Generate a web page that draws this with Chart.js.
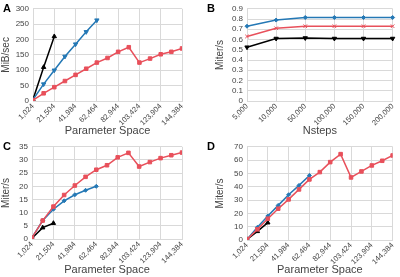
<!DOCTYPE html>
<html lang="en">
<head>
    <meta charset="UTF-8">
    <title>Throughput panels</title>
    <script src="https://cdn.jsdelivr.net/npm/chart.js"></script>
    <style>
        body { margin: 0; background: #fff; font-family: "Liberation Sans", Arial, sans-serif; }
        .panel { position: absolute; width: 200px; height: 138px; }
        .tag { position: absolute; font-weight: bold; font-size: 11px; color: #000; }
    </style>
</head>
<body>
    <div class="panel" style="left:0;top:0"><canvas id="chartA"></canvas></div>
    <div class="panel" style="left:200px;top:0"><canvas id="chartB"></canvas></div>
    <div class="panel" style="left:0;top:138px;height:139px"><canvas id="chartC"></canvas></div>
    <div class="panel" style="left:200px;top:138px;height:139px"><canvas id="chartD"></canvas></div>
    <div class="tag" style="left:3px;top:2px">A</div>
    <div class="tag" style="left:207px;top:2px">B</div>
    <div class="tag" style="left:3px;top:140px">C</div>
    <div class="tag" style="left:207px;top:140px">D</div>
    <script>
        // parameter space sizes (x of panels A, C, D)
        const paramSpace = [1024, 11264, 21504, 31744, 41984, 52224, 62464, 72704, 82944, 93184, 103424, 113664, 123904, 134144, 144384];
        const paramTicks = [1024, 21504, 41984, 62464, 82944, 103424, 123904, 144384];
        const nsteps = ['5,000', '10,000', '50,000', '100,000', '150,000', '200,000'];

        // panel A - MiB/sec
        const aRed = [3, 25, 45, 65, 85, 105, 125, 140, 160, 175, 125, 138, 152, 160, 171];
        const aBlue = [5, 55, 100, 145, 185, 225, 263];
        const aBlack = [5, 110, 210];

        // panel B - Miter/s
        const bBlue = [0.73, 0.79, 0.815, 0.815, 0.815, 0.815];
        const bRed = [0.63, 0.71, 0.73, 0.73, 0.73, 0.73];
        const bBlack = [0.525, 0.61, 0.615, 0.61, 0.61, 0.61];

        // panel C - Miter/s
        const cRed = [0.5, 7, 12.3, 16.7, 20.3, 23.6, 26.3, 28, 31, 32.7, 27.5, 29.2, 30.7, 31.8, 32.8];
        const cBlue = [0.5, 7, 11.3, 14.5, 16.8, 18.5, 20];
        const cBlack = [0.3, 4.3, 6];

        // panel D - Miter/s
        const dRed = [0.5, 8, 16, 23.5, 30.5, 38, 45.5, 51, 58.5, 64.5, 47, 51.5, 56, 59.5, 63.5];
        const dBlue = [0.5, 9.5, 18, 26, 34, 41, 48.5];
        const dBlack = [0.5, 6.5, 13];

        Chart.defaults.font.family = '"Liberation Sans", Arial, sans-serif';

        const RED = '#e8505b';
        const BLUE = '#2478b5';
        const BLACK = '#000000';
        const GRID = '#d9d9d9';
        const TXT = '#444';

        function pts(vals) {
            return vals.map((v, i) => ({ x: paramSpace[i], y: v }));
        }

        function ds(data, color, shape, r, rot) {
            return {
                data: data,
                borderColor: color,
                backgroundColor: color,
                borderWidth: 1.5,
                pointStyle: shape,
                pointRadius: r,
                pointRotation: rot || 0,
                pointBorderWidth: 1,
                tension: 0
            };
        }

        function yAxis(title, max, step, w) {
            return {
                min: 0, max: max,
                afterFit: (ax) => { ax.width = w; },
                grid: { color: GRID, drawTicks: false },
                border: { color: GRID },
                ticks: { stepSize: step, autoSkip: false, padding: 4, color: TXT, font: { size: 8 } },
                title: { display: true, text: title, color: TXT, font: { size: 10 }, padding: 0 }
            };
        }

        function xTitle(text) {
            return { display: true, text: text, color: TXT, font: { size: 11 }, padding: 0 };
        }

        const xTicks = { autoSkip: false, minRotation: 45, maxRotation: 45, padding: 1, color: TXT, font: { size: 7.5 } };

        function paramX(h) {
            return {
                type: 'linear',
                min: 1024, max: 144384,
                afterFit: (ax) => { ax.height = h; },
                grid: { color: GRID, drawTicks: false },
                border: { color: GRID },
                afterBuildTicks: (ax) => { ax.ticks = paramTicks.map(v => ({ value: v })); },
                ticks: Object.assign({ callback: (v) => v.toLocaleString('en-US') }, xTicks),
                title: xTitle('Parameter Space')
            };
        }

        function baseOpts(x, y, padding) {
            return {
                responsive: true,
                maintainAspectRatio: false,
                animation: false,
                layout: { padding: padding },
                plugins: { legend: { display: false }, tooltip: { enabled: false } },
                scales: { x: x, y: y }
            };
        }

        new Chart(document.getElementById('chartA'), {
            type: 'line',
            data: {
                datasets: [
                    ds(pts(aRed), RED, 'rect', 2.5),
                    ds(pts(aBlue), BLUE, 'triangle', 2.5, 180),
                    ds(pts(aBlack), BLACK, 'triangle', 2.5)
                ]
            },
            options: baseOpts(paramX(37), yAxis('MiB/sec', 300, 50, 33), { top: -3, right: 18, left: 0, bottom: 0 })
        });

        new Chart(document.getElementById('chartB'), {
            type: 'line',
            data: {
                labels: nsteps,
                datasets: [
                    ds(bBlue, BLUE, 'rectRot', 2),
                    ds(bRed, RED, 'crossRot', 2.5),
                    ds(bBlack, BLACK, 'triangle', 2.5, 180)
                ]
            },
            options: baseOpts({
                afterFit: (ax) => { ax.height = 37; },
                grid: { color: GRID, drawTicks: false, offset: false },
                border: { color: GRID },
                offset: false,
                ticks: xTicks,
                title: xTitle('Nsteps')
            }, yAxis('Miter/s', 0.9, 0.1, 33), { top: -3, right: 5, left: 14, bottom: 0 })
        });

        new Chart(document.getElementById('chartC'), {
            type: 'line',
            data: {
                datasets: [
                    ds(pts(cRed), RED, 'rect', 2.5),
                    ds(pts(cBlue), BLUE, 'rectRot', 2),
                    ds(pts(cBlack), BLACK, 'triangle', 2.5)
                ]
            },
            options: baseOpts(paramX(38), yAxis('Miter/s', 35, 5, 32), { top: -2, right: 18, left: 0, bottom: 0 })
        });

        new Chart(document.getElementById('chartD'), {
            type: 'line',
            data: {
                datasets: [
                    ds(pts(dRed), RED, 'rect', 2.5),
                    ds(pts(dBlue), BLUE, 'rectRot', 2),
                    ds(pts(dBlack), BLACK, 'triangle', 2.5)
                ]
            },
            options: baseOpts(paramX(37), yAxis('Miter/s', 70, 10, 33), { top: -2, right: 4, left: 14, bottom: 0 })
        });
    </script>
</body>
</html>
